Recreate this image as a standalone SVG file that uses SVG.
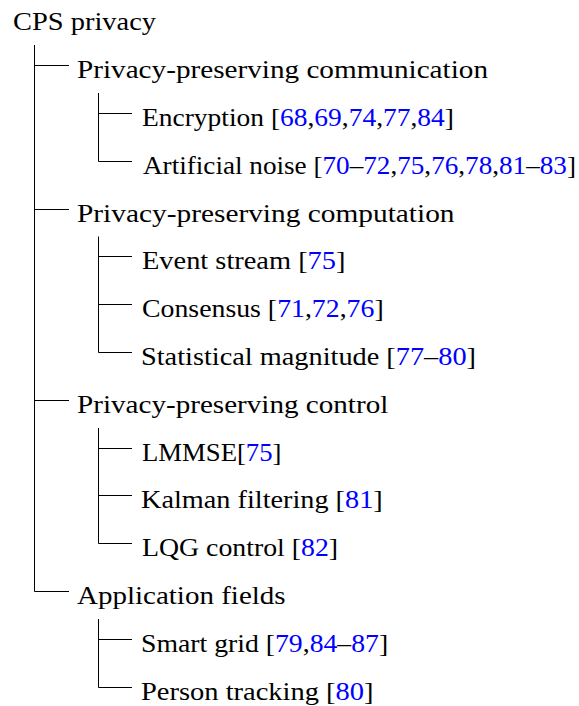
<svg xmlns="http://www.w3.org/2000/svg" width="579" height="706" viewBox="0 0 579 706">
<style>
text{font-family:'Liberation Serif','Times New Roman',serif;font-size:26px;fill:#000}
.c{fill:#0000ff}
.e{fill:none;stroke:#000;stroke-width:1}
</style>
<rect width="579" height="706" fill="#fff"/>
<g id="connectors">
<path class="e" d="M34.5 45V591.5M34.5 65.5H69M34.5 209.5H69M34.5 400.5H69M34.5 591.5H69"/>
<path class="e" d="M98.5 93V161.5M98.5 113.5H132M98.5 161.5H132"/>
<path class="e" d="M98.5 236.5V352.5M98.5 256.5H132M98.5 304.5H132M98.5 352.5H132"/>
<path class="e" d="M98.5 428V543.5M98.5 448.5H132M98.5 495.5H132M98.5 543.5H132"/>
<path class="e" d="M98.5 619V687.5M98.5 639.5H132M98.5 687.5H132"/>
</g>
<g id="n-root"><text x="13" y="30" textLength="143" lengthAdjust="spacingAndGlyphs">CPS privacy</text></g>
<g id="n-comm"><text x="77" y="78" textLength="411" lengthAdjust="spacingAndGlyphs">Privacy-preserving communication</text></g>
<g id="n-enc"><text x="142" y="126" textLength="312" lengthAdjust="spacingAndGlyphs">Encryption [<tspan class="c">68</tspan>,<tspan class="c">69</tspan>,<tspan class="c">74</tspan>,<tspan class="c">77</tspan>,<tspan class="c">84</tspan>]</text></g>
<g id="n-noise"><text x="143" y="174" textLength="433" lengthAdjust="spacingAndGlyphs">Artificial noise [<tspan class="c">70</tspan>–<tspan class="c">72</tspan>,<tspan class="c">75</tspan>,<tspan class="c">76</tspan>,<tspan class="c">78</tspan>,<tspan class="c">81</tspan>–<tspan class="c">83</tspan>]</text></g>
<g id="n-comp"><text x="77" y="222" textLength="377.5" lengthAdjust="spacingAndGlyphs">Privacy-preserving computation</text></g>
<g id="n-event"><text x="142" y="269" textLength="203.5" lengthAdjust="spacingAndGlyphs">Event stream [<tspan class="c">75</tspan>]</text></g>
<g id="n-cons"><text x="142" y="317" textLength="241.7" lengthAdjust="spacingAndGlyphs">Consensus [<tspan class="c">71</tspan>,<tspan class="c">72</tspan>,<tspan class="c">76</tspan>]</text></g>
<g id="n-stat"><text x="141" y="365" textLength="335" lengthAdjust="spacingAndGlyphs">Statistical magnitude [<tspan class="c">77</tspan>–<tspan class="c">80</tspan>]</text></g>
<g id="n-ctrl"><text x="77" y="413" textLength="311.3" lengthAdjust="spacingAndGlyphs">Privacy-preserving control</text></g>
<g id="n-lmmse"><text x="142" y="461" textLength="139.5" lengthAdjust="spacingAndGlyphs">LMMSE[<tspan class="c">75</tspan>]</text></g>
<g id="n-kalman"><text x="141" y="508" textLength="241.7" lengthAdjust="spacingAndGlyphs">Kalman filtering [<tspan class="c">81</tspan>]</text></g>
<g id="n-lqg"><text x="142" y="556" textLength="196.1" lengthAdjust="spacingAndGlyphs">LQG control [<tspan class="c">82</tspan>]</text></g>
<g id="n-app"><text x="77" y="604" textLength="208.6" lengthAdjust="spacingAndGlyphs">Application fields</text></g>
<g id="n-smart"><text x="141" y="652" textLength="247.2" lengthAdjust="spacingAndGlyphs">Smart grid [<tspan class="c">79</tspan>,<tspan class="c">84</tspan>–<tspan class="c">87</tspan>]</text></g>
<g id="n-person"><text x="141" y="700" textLength="232.6" lengthAdjust="spacingAndGlyphs">Person tracking [<tspan class="c">80</tspan>]</text></g>
</svg>
